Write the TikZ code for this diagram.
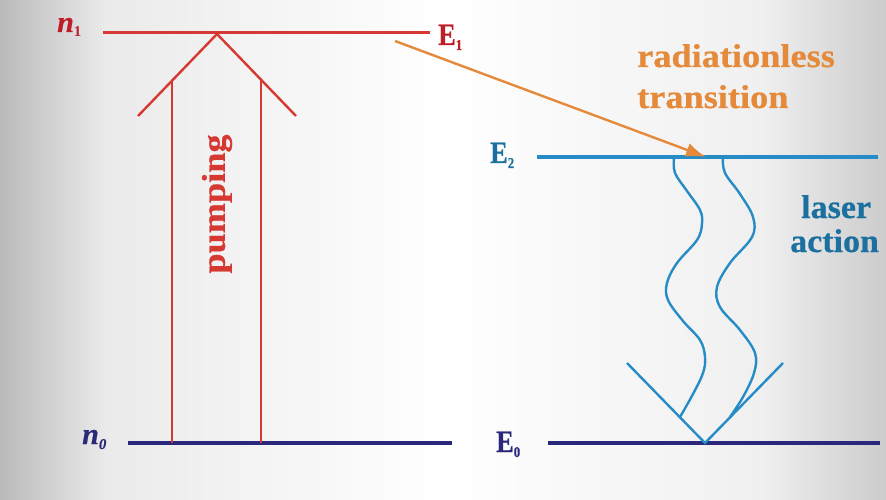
\documentclass[tikz,border=0pt]{standalone}
\usepackage{fontspec}
\setmainfont{Liberation Serif}
\newfontfamily\labfont[FakeStretch=1.1, BoldFeatures={FakeBold=0.6}]{Liberation Serif}
\newfontfamily\lasfont[FakeStretch=1.03, BoldFeatures={FakeBold=0.6}]{Liberation Serif}
\newfontfamily\efont[FakeStretch=0.85, BoldFeatures={FakeBold=0.6}]{Liberation Serif}
\newfontfamily\nfont[BoldItalicFeatures={FakeBold=0.6}]{Liberation Serif}
\usetikzlibrary{arrows.meta}
\definecolor{redline}{RGB}{214,56,50}
\definecolor{redtext}{RGB}{190,30,40}
\definecolor{navy}{RGB}{42,40,120}
\definecolor{blueline}{RGB}{38,140,198}
\definecolor{bluetext}{RGB}{28,112,160}
\definecolor{orangec}{RGB}{228,138,58}
\pgfdeclarehorizontalshading{bgshade}{100bp}{color(0bp)=(black!27); color(25bp)=(black!27); color(31bp)=(black!8); color(50bp)=(white); color(68bp)=(black!6); color(75bp)=(black!20); color(100bp)=(black!20)}
\newcommand{\lvlsub}[1]{\raisebox{-5pt}{\fontsize{15}{15}\selectfont #1}}
\tikzset{
  lvl/.style={line width=3pt},
  thin/.style={line width=2.4pt},
  wave/.style={line width=2.4pt, blueline, smooth, tension=0.6},
  lab/.style={inner sep=0pt, font=\labfont\bfseries\fontsize{33}{36}\selectfont},
  laslab/.style={inner sep=0pt, font=\lasfont\bfseries\fontsize{33}{36}\selectfont},
  elab/.style={inner sep=0pt, font=\efont\bfseries\fontsize{31}{34}\selectfont},
  nlab/.style={inner sep=0pt, font=\nfont\bfseries\itshape\fontsize{30}{34}\selectfont},
}
\begin{document}
\begin{tikzpicture}[x=1pt,y=-1pt]
\useasboundingbox (0,0) rectangle (886,500);
\shade[shading=bgshade] (0,0) rectangle (886,500);

% level coordinates
\coordinate (n1a) at (103,33);  \coordinate (n1b) at (430,33);
\coordinate (e2a) at (537,157); \coordinate (e2b) at (878,157);
\coordinate (n0a) at (128,443); \coordinate (n0b) at (452,443);
\coordinate (e0a) at (548,443); \coordinate (e0b) at (880,443);

% labels
\node[nlab, text=redtext, anchor=base west] (n1lbl) at (57,32) {n\lvlsub{\upshape 1}};
\node[elab, text=redtext, anchor=base west] (e1lbl) at (438,45) {E\lvlsub{1}};
\node[elab, text=bluetext, anchor=base west] (e2lbl) at (490,163) {E\lvlsub{2}};
\node[nlab, text=navy, anchor=base west] (n0lbl) at (82,444) {n\lvlsub{0}};
\node[elab, text=navy, anchor=base west] (e0lbl) at (496,452) {E\lvlsub{0}};

% energy levels
\draw[lvl, redline] (n1a) -- (n1b);
\draw[lvl, blueline] (e2a) -- (e2b);
\draw[lvl, navy, line width=3.6pt] (n0a) -- (n0b);
\draw[lvl, navy, line width=3.6pt] (e0a) -- (e0b);

% pumping arrow
\coordinate (pl0) at (172,443); \coordinate (pl1) at (172,81);
\coordinate (pr0) at (261,443); \coordinate (pr1) at (261,81);
\coordinate (pa) at (217,34);
\coordinate (pal) at (138,116); \coordinate (par) at (296,116);
\draw[thin, redline] (pl0) -- (pl1);
\draw[thin, redline] (pr0) -- (pr1);
\draw[thin, redline, line join=miter] (pal) -- (pa) -- (par);
\node[lab, text=redline, rotate=90] (pump) at (217,204) {pumping};

% radiationless transition
\coordinate (rt0) at (395,41);
\coordinate (rt1) at (706,157);
\draw[line width=2.4pt, orangec, -{Latex[length=20pt,width=14pt]}] (rt0) -- (rt1);
\node[lab, text=orangec, anchor=base west] (rad1) at (637,67) {radiationless};
\node[lab, text=orangec, anchor=base west] (rad2) at (637,108) {transition};

% laser action
\node[laslab, text=bluetext, anchor=base west] (las1) at (801,218) {laser};
\node[laslab, text=bluetext, anchor=base west] (las2) at (790,252) {action};

% waves
\draw[wave] plot coordinates {(674,158) (675,173) (687,191) (700,210) (702,224) (697,240) (677,263) (667,283) (668,300) (683,321) (700,340) (705,357) (703,373) (693,394) (680,417)};
\draw[wave] plot coordinates {(723,158) (725,173) (740,194) (753,217) (752,237) (730,263) (717,287) (720,307) (740,330) (755,353) (754,373) (743,397) (730,417)};
\coordinate (va) at (705,443);
\coordinate (vl) at (627,363); \coordinate (vr) at (783,363);
\draw[line width=2.4pt, blueline] (vl) -- (va) -- (vr);
\end{tikzpicture}
\end{document}
